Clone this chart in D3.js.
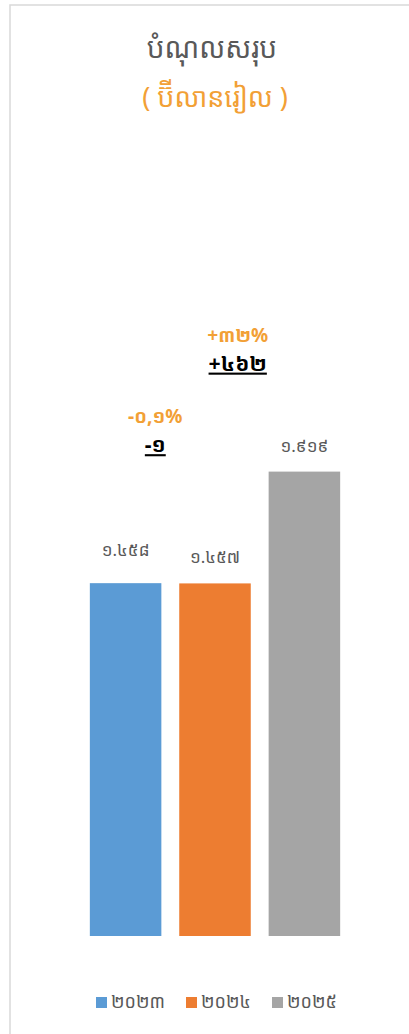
<!DOCTYPE html>
<html lang="km">
<head>
<meta charset="UTF-8">
<title>បំណុលសរុប</title>
<style>
  body { margin: 0; background: #fff; }
  svg text { font-family: "Noto Sans Khmer", "Khmer OS", "Noto Sans", sans-serif; }
</style>
<script src="https://cdn.jsdelivr.net/npm/d3@7"></script>
</head>
<body>
<svg width="409" height="1034"></svg>
<script>
  var years = ["២០២៣", "២០២៤", "២០២៥"];
  var values = [1458, 1457, 1919];
  var valueLabels = ["១.៤៥៨", "១.៤៥៧", "១.៩១៩"];
  var colors = ["#5b9bd5", "#ed7d31", "#a5a5a5"];
  // change annotations, placed between bars
  var changePos = [0.5, 1.5];
  var changePct = ["-០,១%", "+៣២%"];
  var changeAbs = ["-១", "+៤៦២"];
  var changeRef = [1458, 1919];

  var svg = d3.select("svg");

  // chart frame
  svg.append("rect")
    .attr("x", 10).attr("y", 5)
    .attr("width", 420).attr("height", 1040)
    .attr("fill", "none")
    .attr("stroke", "#d9d9d9")
    .attr("stroke-width", 1.5);

  svg.append("text")
    .attr("x", 212).attr("y", 58)
    .attr("text-anchor", "middle")
    .attr("font-size", 28)
    .attr("fill", "#595959")
    .text("បំណុលសរុប");

  svg.append("text")
    .attr("x", 215).attr("y", 107)
    .attr("text-anchor", "middle")
    .attr("font-size", 27)
    .attr("fill", "#f2a035")
    .text("( ប៊ីលានរៀល )");

  var x = d3.scaleBand()
    .domain(d3.range(years.length))
    .range([80, 350])
    .paddingInner(0.2)
    .paddingOuter(0.11);

  var y = d3.scaleLinear()
    .domain([0, 2500])
    .range([936, 331]);

  svg.append("g").selectAll("rect")
    .data(values)
    .enter().append("rect")
    .attr("x", function (d, i) { return x(i); })
    .attr("y", function (d) { return y(d); })
    .attr("width", x.bandwidth())
    .attr("height", function (d) { return y(0) - y(d); })
    .attr("fill", function (d, i) { return colors[i]; });

  var labelGap = [27, 20, 20];
  svg.append("g").selectAll("text")
    .data(values)
    .enter().append("text")
    .attr("x", function (d, i) { return x(i) + x.bandwidth() / 2; })
    .attr("y", function (d, i) { return y(d) - labelGap[i]; })
    .attr("text-anchor", "middle")
    .attr("font-size", 17)
    .attr("fill", "#595959")
    .text(function (d, i) { return valueLabels[i]; });

  // change annotations
  var annGap = [160, 130];
  var annShift = [-15, -22];
  var ann = svg.append("g").selectAll("g")
    .data(changePos)
    .enter().append("g")
    .attr("transform", function (d, i) {
      var cx = x(0) + x.bandwidth() / 2 + d * x.step() + annShift[i];
      return "translate(" + cx + "," + (y(changeRef[i]) - annGap[i]) + ")";
    });

  ann.append("text")
    .attr("y", 0)
    .attr("text-anchor", "middle")
    .attr("font-size", 19)
    .attr("font-weight", "bold")
    .attr("fill", "#f2a035")
    .text(function (d, i) { return changePct[i]; });

  ann.append("text")
    .attr("y", 29)
    .attr("text-anchor", "middle")
    .attr("font-size", 21)
    .attr("font-weight", "bold")
    .attr("fill", "#000")
    .attr("text-decoration", "underline")
    .text(function (d, i) { return changeAbs[i]; });

  // legend
  var legendX = [96, 186, 272];
  var leg = svg.append("g").selectAll("g")
    .data(years)
    .enter().append("g")
    .attr("transform", function (d, i) { return "translate(" + legendX[i] + ",997)"; });

  leg.append("rect")
    .attr("width", 11).attr("height", 11)
    .attr("fill", function (d, i) { return colors[i]; });

  leg.append("text")
    .attr("x", 15).attr("y", 11)
    .attr("font-size", 18)
    .attr("fill", "#595959")
    .text(function (d) { return d; });
</script>
</body>
</html>
